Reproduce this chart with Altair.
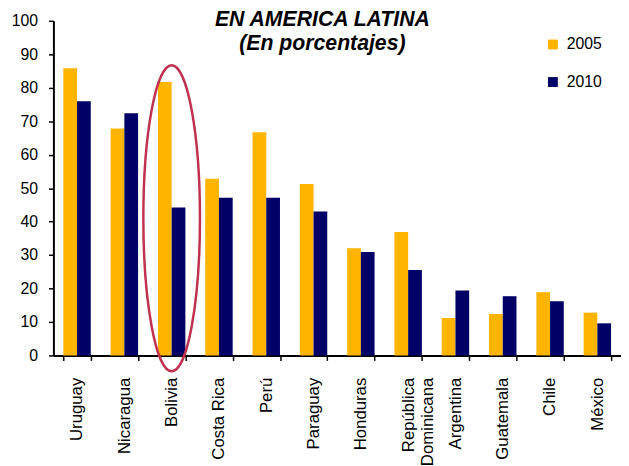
import altair as alt
import pandas as pd

countries = ["Uruguay", "Nicaragua", "Bolivia", "Costa Rica", "Perú", "Paraguay",
             "Honduras", "República Dominicana", "Argentina", "Guatemala", "Chile", "México"]
values_2005 = [85.8, 67.8, 81.7, 52.8, 66.7, 51.2, 32.0, 36.9, 11.2, 12.4, 18.9, 12.8]
values_2010 = [76.0, 72.4, 44.2, 47.1, 47.1, 43.0, 30.9, 25.5, 19.4, 17.7, 16.2, 9.6]
years = ["2005", "2010"]
colors = ["#FFB400", "#000066"]
y_ticks = list(range(0, 101, 10))
title_lines = ["EN AMERICA LATINA", "(En porcentajes)"]
highlight_country = ["Bolivia"]
highlight_center = [41.0]

FONT = "Liberation Sans"

rows = []
for c, a, b in zip(countries, values_2005, values_2010):
    rows.append({"country": c, "year": years[0], "value": a})
    rows.append({"country": c, "year": years[1], "value": b})
df = pd.DataFrame(rows)

x_enc = alt.X(
    "country:N",
    sort=countries,
    scale=alt.Scale(paddingInner=0.42, paddingOuter=0.21),
    axis=alt.Axis(
        title=None, labelAngle=-90, labelAlign="right", labelBaseline="middle",
        labelFontSize=17, labelPadding=17, tickBand="extent", tickSize=5,
        labelOverlap=False, labelLineHeight=20,
        labelExpr="datum.value == 'República Dominicana' ? ['República', 'Dominicana'] : datum.label",
    ),
)
y_enc = alt.Y(
    "value:Q",
    scale=alt.Scale(domain=[0, 100], nice=False),
    axis=alt.Axis(title=None, values=y_ticks, labelFontSize=16, grid=False,
                  tickSize=5, labelPadding=11, labelOverlap=False),
)

bars = alt.Chart(df).mark_bar().encode(
    x=x_enc,
    y=y_enc,
    xOffset=alt.XOffset("year:N", sort=years, scale=alt.Scale(paddingInner=0, paddingOuter=0)),
    color=alt.Color(
        "year:N",
        scale=alt.Scale(domain=years, range=colors),
        legend=alt.Legend(title=None, orient="none", legendX=498, legendY=16,
                          labelFontSize=16, symbolType="square", symbolSize=100,
                          rowPadding=22, labelOffset=6, symbolStrokeWidth=0),
    ),
)

ell_df = pd.DataFrame({"country": highlight_country, "value": highlight_center})
ellipse = alt.Chart(ell_df).mark_point(
    shape="M0,-1 A0.185,1 0 1,1 0,1 A0.185,1 0 1,1 0,-1 Z",
    size=96100, filled=False, stroke="#C0304F", strokeWidth=2.5, opacity=1,
).encode(
    x=x_enc,
    y=y_enc,
)

chart = alt.layer(bars, ellipse).properties(
    width=575,
    height=339,
    autosize=alt.AutoSizeParams(type="none"),
    padding={"left": 46, "top": 10, "right": 0, "bottom": 109},
    title=alt.TitleParams(
        text=title_lines, font=FONT, fontSize=21.5, fontStyle="italic",
        fontWeight="bold", anchor="middle", dx=-15, offset=-59,
        baseline="alphabetic", lineHeight=24, color="black",
    ),
).configure_axis(
    domainColor="black", domainWidth=2, tickColor="black", tickWidth=1.5,
    labelColor="black", labelFont=FONT,
).configure_legend(
    labelFont=FONT, labelColor="black", padding=0,
).configure_view(stroke=None)

chart.save("out.html", embed_options={"renderer": "svg", "actions": False})
